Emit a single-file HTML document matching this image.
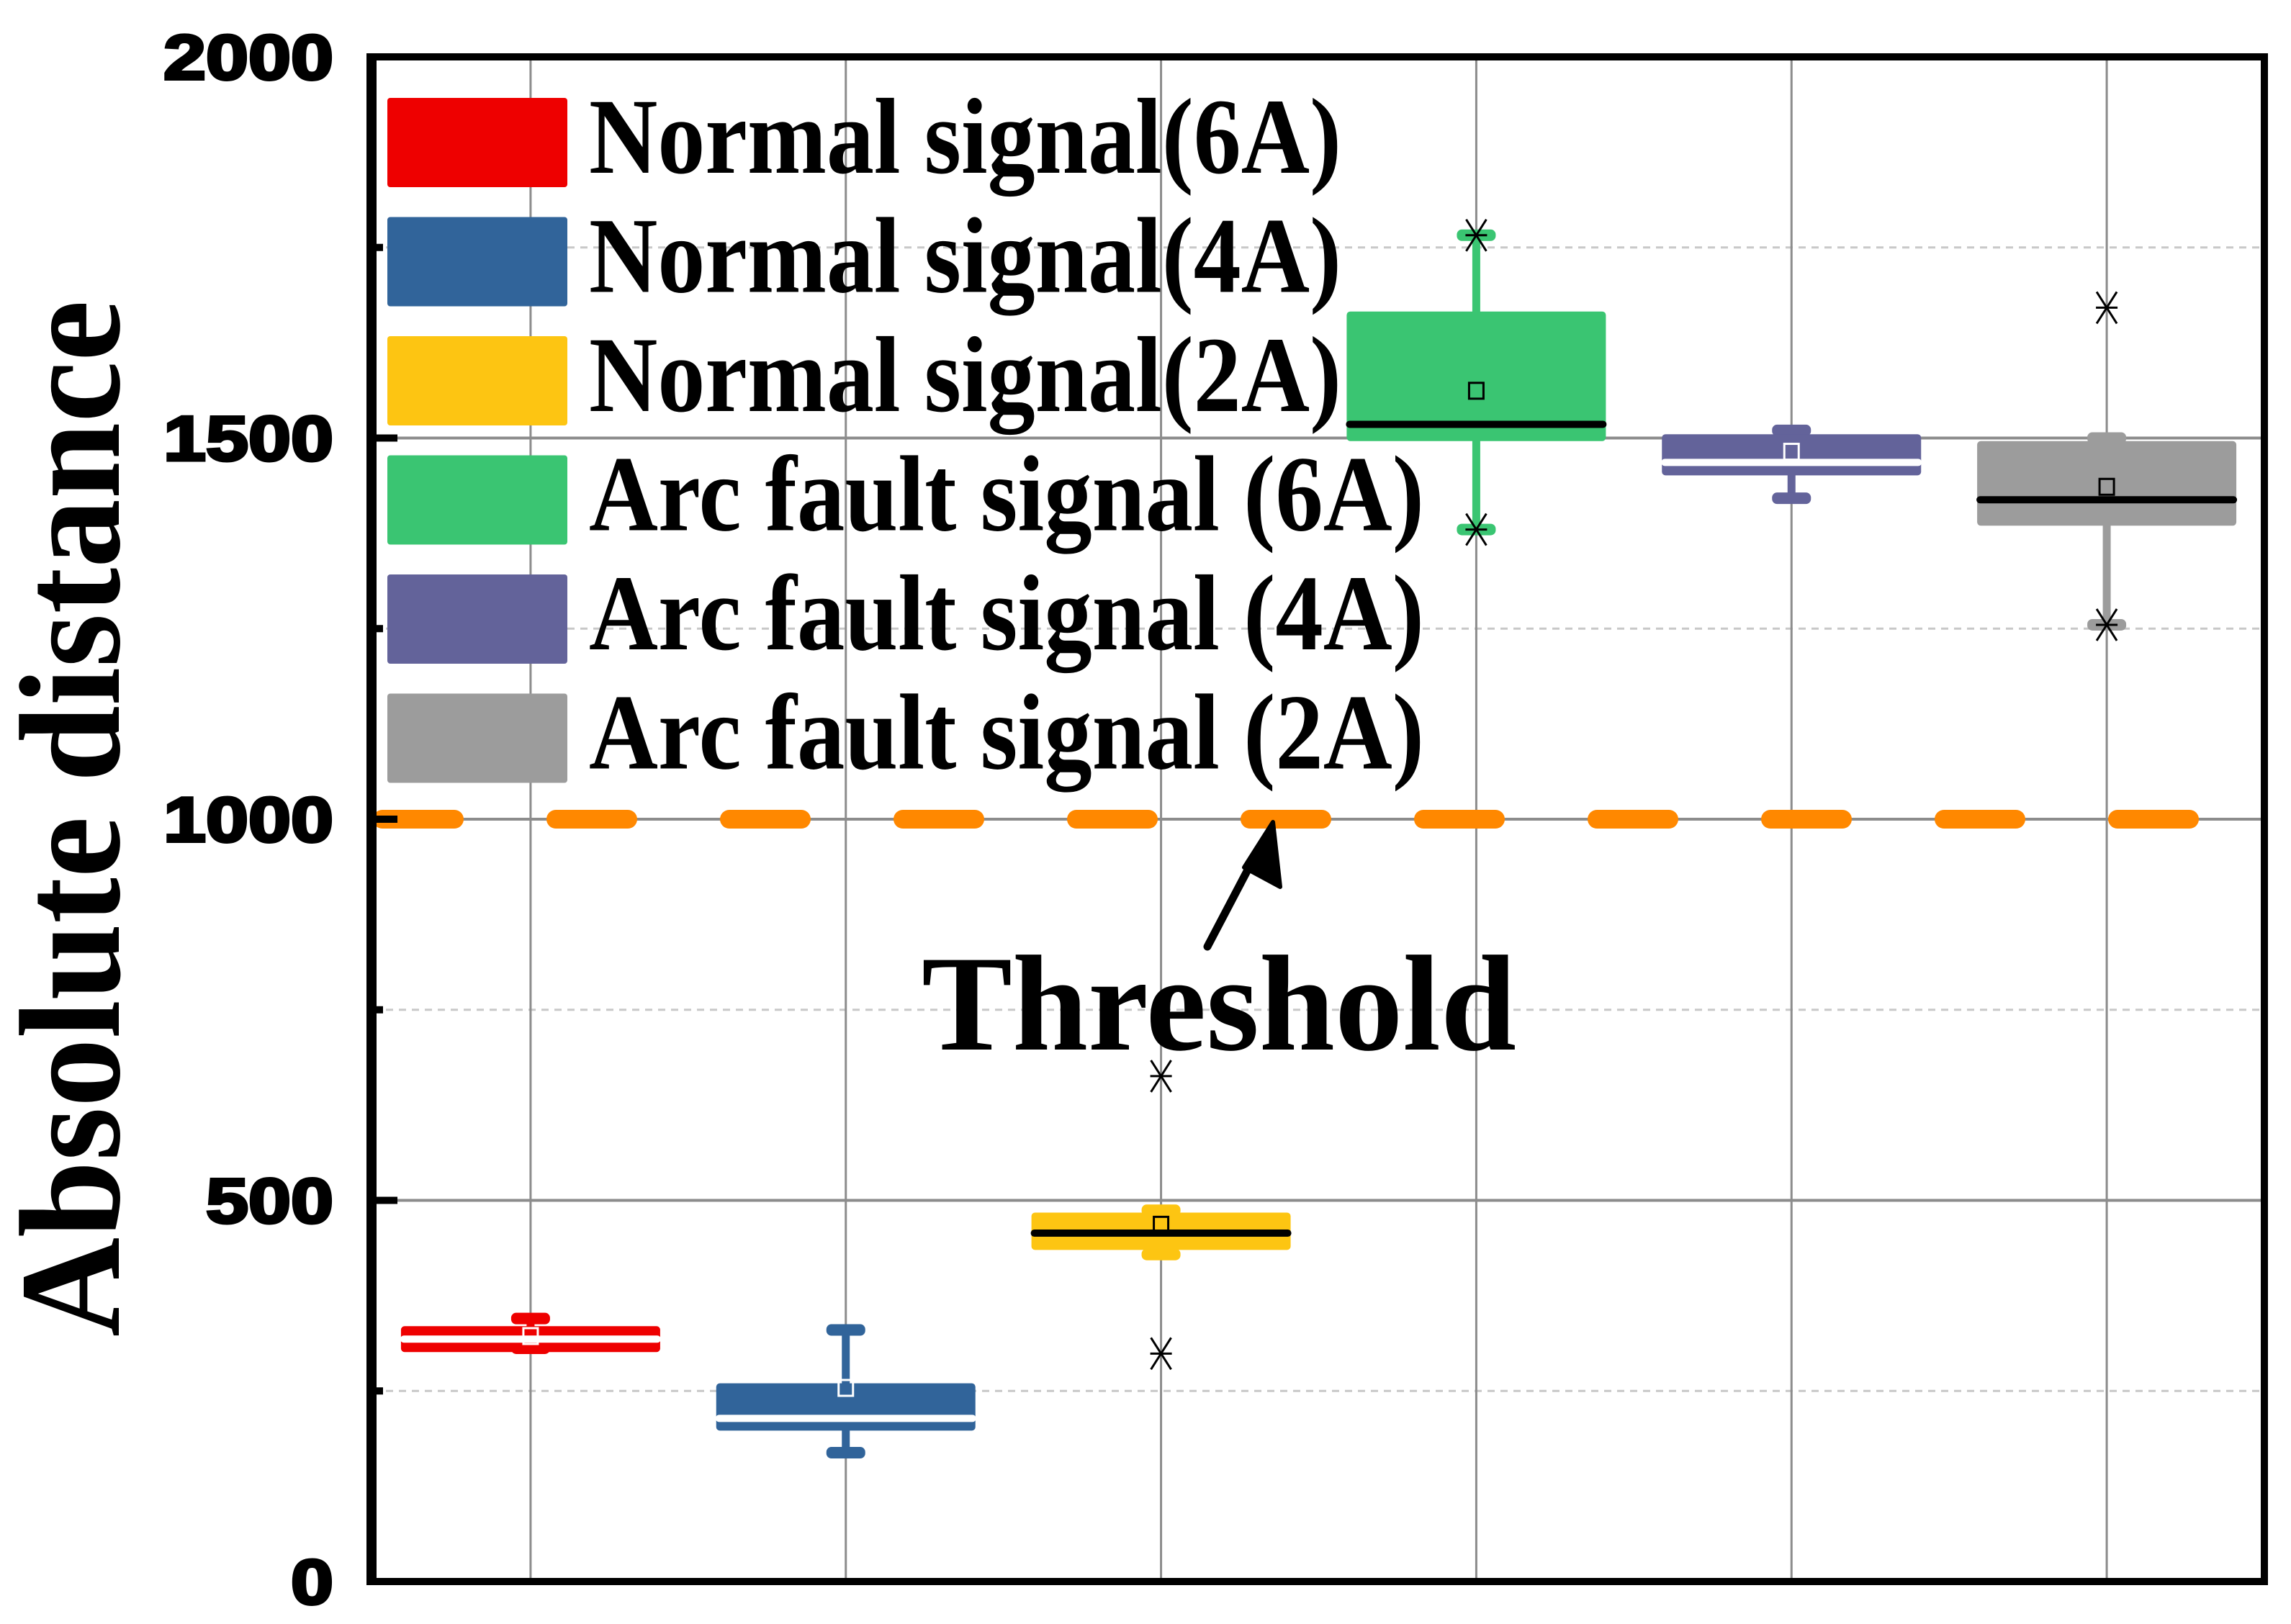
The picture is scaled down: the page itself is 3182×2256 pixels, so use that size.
<!DOCTYPE html>
<html><head><meta charset="utf-8"><style>
html,body{margin:0;padding:0;background:#fff;}
svg{display:block;}
</style></head><body>
<svg id="chart" width="3182" height="2256" viewBox="0 0 3182 2256" xmlns="http://www.w3.org/2000/svg">
<rect x="0" y="0" width="3182" height="2256" fill="#fff"/>
<g id="grid"></g>
<g id="boxes"></g>
<g id="threshold"></g>
<g id="axes"></g>
<g id="legend"></g>
<text x="0" y="0" transform="translate(165,1137) rotate(-90)" text-anchor="middle" font-family="Liberation Serif, serif" font-weight="bold" font-size="200" textLength="1440" lengthAdjust="spacingAndGlyphs">Absolute distance</text>
<text x="1280" y="1458" font-family="Liberation Serif, serif" font-weight="bold" font-size="190" textLength="826" lengthAdjust="spacingAndGlyphs">Threshold</text>
<g>
<line x1="1677" y1="1315" x2="1740" y2="1195" stroke="#000" stroke-width="11" stroke-linecap="round"/>
<polygon points="1768,1142 1778,1232 1728,1205" fill="#000" stroke="#000" stroke-width="6" stroke-linejoin="round"/>
</g>
</svg>
<script>
const categories = ["Normal signal(6A)","Normal signal(4A)","Normal signal(2A)","Arc fault signal (6A)","Arc fault signal (4A)","Arc fault signal (2A)"];
const whiskerLow = [306,169,429,1380,1421,1255];
const q1 = [301,198,435,1496,1451,1385];
const medians = [318,214,457,1518,1468,1419];
const q3 = [335,260,484,1666,1505,1496];
const whiskerHigh = [345,330,487,1766,1510,1500];
const means = [322,254,468,1562,1482,1436];
const outliers = [[],[],[663,299],[1766,1380],[],[1671,1255]];
const colors = ["#EE0000","#31649A","#FDC512","#3AC572","#63639A","#9C9C9C"];
const medianColors = ["#fff","#fff","#000","#000","#fff","#000"];
const yTicks = [0,500,1000,1500,2000];
const yMinorTicks = [250,750,1250,1750];
const thresholdValue = 1000;

const NS="http://www.w3.org/2000/svg";
const L=518,R=3145,T=79,B=2197,YMAX=2000;
function y(v){return B-(v/YMAX)*(B-T);}
function xc(i){return L+(i+0.5)*(R-L)/categories.length;}
function mk(tag,attrs,parent){const e=document.createElementNS(NS,tag);for(const k in attrs)e.setAttribute(k,attrs[k]);parent.appendChild(e);return e;}
const grid=document.getElementById('grid'),boxes=document.getElementById('boxes'),axes=document.getElementById('axes'),legend=document.getElementById('legend'),thr=document.getElementById('threshold');

yTicks.forEach(v=>{if(v>0&&v<YMAX){const g=mk('line',{x1:L,x2:R,y1:y(v),y2:y(v),stroke:'#8c8c8c','stroke-width':4},grid);

}});
yMinorTicks.forEach(v=>{const g=mk('line',{x1:L,x2:R,y1:y(v),y2:y(v),stroke:'#c8c8c8','stroke-width':3,'stroke-dasharray':'10 8'},grid);

});
categories.forEach((c,i)=>{const g=mk('line',{x1:xc(i),x2:xc(i),y1:T,y2:B,stroke:'#8c8c8c','stroke-width':3},grid);

});

const BW=360;
categories.forEach((c,i)=>{
  const x=xc(i),col=colors[i];
  const g=mk('g',{},boxes);
  
  
  mk('line',{x1:x,x2:x,y1:y(whiskerLow[i]),y2:y(whiskerHigh[i]),stroke:col,'stroke-width':11},g);
  [whiskerLow[i],whiskerHigh[i]].forEach(v=>{mk('rect',{x:x-27,y:y(v)-8,width:54,height:16,rx:7,fill:col},g);});
  mk('rect',{x:x-BW/2,y:y(q3[i]),width:BW,height:y(q1[i])-y(q3[i]),rx:5,fill:col},g);
  mk('line',{x1:x-BW/2+4,x2:x+BW/2-4,y1:y(medians[i]),y2:y(medians[i]),stroke:medianColors[i],'stroke-width':10,'stroke-linecap':'round'},g);
  const ms=mk('rect',{x:x-10,y:y(means[i])-11,width:20,height:22,fill:'none',stroke:medianColors[i]==='#fff'?'#fff':'#000','stroke-width':3},g);
  
  
  outliers[i].forEach(v=>{const o=mk('path',{d:`M${x-14},${y(v)-22}L${x+14},${y(v)+22}M${x+14},${y(v)-22}L${x-14},${y(v)+22}M${x-15},${y(v)}L${x+15},${y(v)}`,stroke:'#000','stroke-width':3,fill:'none'},g);
    
    });
});

const tl=mk('line',{x1:L+13,x2:L+13+10*241+100,y1:y(thresholdValue),y2:y(thresholdValue),stroke:'#FF8800','stroke-width':26,'stroke-linecap':'round','stroke-dasharray':'100 141'},thr);



// frame
const fr=mk('rect',{x:L,y:T,width:R-L,height:B-T,fill:'none',stroke:'#000','stroke-width':10},axes);


mk('line',{x1:L-2,x2:L-2,y1:T-5,y2:B+5,stroke:'#000','stroke-width':14},axes);
yTicks.forEach(v=>{mk('line',{x1:L,x2:L+34,y1:y(v),y2:y(v),stroke:'#000','stroke-width':10},axes);
  const t=mk('text',{x:463,y:y(v)+31,'text-anchor':'end','font-family':'Liberation Sans, sans-serif','font-weight':'bold','font-size':88,stroke:'#000','stroke-width':4},axes);
  
  
  t.textContent=v;
  const w=(String(v).length)*59;t.setAttribute('textLength',w);t.setAttribute('lengthAdjust','spacingAndGlyphs');});
yMinorTicks.forEach(v=>{mk('line',{x1:L,x2:L+14,y1:y(v),y2:y(v),stroke:'#000','stroke-width':10},axes);});

// legend
const textW=[1045,1045,1045,1160,1160,1160];
categories.forEach((c,i)=>{
  const ty=136+i*165.5;
  const g=mk('g',{},legend);
  
  
  mk('rect',{x:538,y:ty,width:250,height:124,rx:4,fill:colors[i]},g);
  const t=mk('text',{x:818,y:ty+104,'font-family':'Liberation Serif, serif','font-weight':'bold','font-size':150,textLength:textW[i],lengthAdjust:'spacingAndGlyphs'},g);
  t.textContent=c;
});
</script>
</body></html>
